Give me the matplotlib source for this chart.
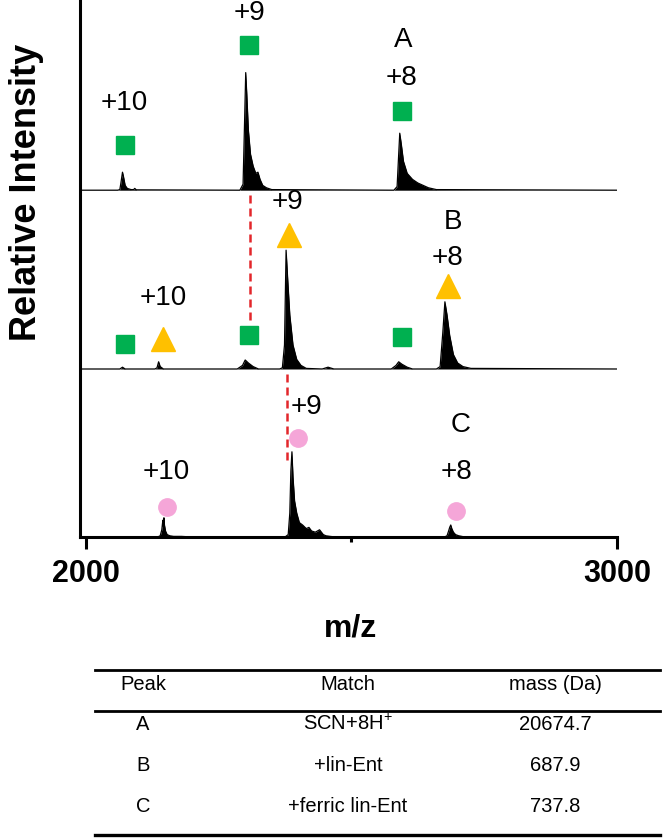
import matplotlib
matplotlib.use('Agg')
import matplotlib.pyplot as plt
from matplotlib.lines import Line2D

plt.rcParams['font.family'] = ['Liberation Sans', 'DejaVu Sans']
plt.rcParams['mathtext.default'] = 'regular'

# spectrum outlines (m/z, relative intensity)
A_mz = [1990, 2060, 2064, 2066, 2068, 2069, 2071, 2074, 2078, 2085, 2090, 2092, 2095,
        2290, 2296, 2299, 2301, 2303, 2306, 2310, 2315, 2320, 2324, 2328, 2333, 2340, 2350,
        2580, 2586, 2589, 2591, 2594, 2598, 2605, 2615, 2625, 2635, 2645, 2660, 3000]
A_int = [0, 0, 0.5, 6, 12, 15, 11, 4, 1.5, 0.5, 0.5, 1.5, 0.3,
         0, 5, 60, 98, 80, 50, 30, 20, 14, 15, 9, 4, 2, 0.5,
         0, 3, 30, 47.5, 38, 24, 14, 9, 6, 4, 2, 0.5, 0]

B_mz = [1990, 2064, 2069, 2074, 2130, 2134, 2137, 2140, 2146, 2285, 2295, 2300, 2306,
        2315, 2325, 2365, 2370, 2374, 2377, 2380, 2384, 2390, 2397, 2405, 2415, 2445,
        2456, 2467, 2575, 2584, 2589, 2595, 2605, 2615, 2660, 2667, 2672, 2676, 2680,
        2685, 2692, 2700, 2710, 2725, 3000]
B_int = [0, 0, 1.5, 0, 0, 1, 6, 2, 0, 0, 3, 7.5, 5,
         2, 0, 0, 1, 20, 99, 75, 45, 20, 8, 3, 0.5, 0,
         1.5, 0, 0, 3, 6, 4, 1.5, 0, 0, 2, 30, 56, 45,
         28, 12, 5, 2, 0.5, 0]

C_mz = [1990, 2135, 2140, 2143, 2145, 2146, 2147, 2148, 2150, 2153, 2158, 2165, 2180,
        2200, 2375, 2381, 2384, 2386, 2388, 2390, 2393, 2397, 2402, 2408, 2415, 2420,
        2425, 2432, 2440, 2447, 2452, 2460, 2470, 2675, 2680, 2683, 2685, 2687, 2689,
        2692, 2696, 2702, 2710, 3000]
C_int = [0, 0, 1, 6, 14, 9, 16, 10, 5, 2, 1, 0.5, 0.5,
         0, 0, 2, 20, 55, 71, 50, 30, 20, 12, 10, 7, 8,
         5, 4, 6, 2, 1, 0.5, 0, 0, 1, 5, 8, 10, 7,
         4, 2, 1, 0.3, 0]

offsets = {'A': 289, 'B': 140, 'C': 0}

# peak markers
sq_mz = [2073, 2307, 2595, 2073, 2307, 2595]
sq_y = [327, 410, 355, 161, 168, 167]
tri_mz = [2145, 2382, 2682]
tri_y = [165, 252, 209]
circ_mz = [2152, 2399, 2697]
circ_y = [25, 82.5, 21.7]

# charge state / panel labels
lab_text = ['+10', '+9', '+8', 'A', '+10', '+9', '+8', 'B', '+10', '+9', '+8', 'C']
lab_mz = [2073, 2309, 2595, 2597, 2145, 2379, 2680, 2691, 2152, 2416, 2697, 2706]
lab_y = [362, 437, 382.5, 414, 199, 279, 232.5, 262.5, 54, 108, 54, 93]

# dashed guide lines
dash_mz = [2309, 2379]
dash_lo = [181, 64]
dash_hi = [287, 140]

# table
tab_cols = ['Peak', 'Match', 'mass (Da)']
tab_peak = ['A', 'B', 'C']
tab_match = ['SCN+8H$^{+}$', '+lin-Ent', '+ferric lin-Ent']
tab_mass = ['20674.7', '687.9', '737.8']

W, H = 666, 838
fig = plt.figure(figsize=(W / 100, H / 100), dpi=100)
ax = fig.add_axes([80 / W, 1 - 537 / H, 537 / W, 537 / H])

for mz, inten, key in [(A_mz, A_int, 'A'), (B_mz, B_int, 'B'), (C_mz, C_int, 'C')]:
    off = offsets[key]
    top = [off + v for v in inten]
    ax.fill_between(mz, off, top, color='black', lw=0)
    ax.plot(mz, top, color='black', lw=0.9)

ax.plot(sq_mz, sq_y, ls='none', marker='s', ms=13, color='#00B050', mec='#00B050')
ax.plot(tri_mz, tri_y, ls='none', marker='^', ms=17, color='#FFC000', mec='#FFC000')
ax.plot(circ_mz, circ_y, ls='none', marker='o', ms=12.5, color='#F5A6D8', mec='#F5A6D8')

for t, x, y in zip(lab_text, lab_mz, lab_y):
    ax.text(x, y, t, fontsize=20, ha='center', va='center')

for x, lo, hi in zip(dash_mz, dash_lo, dash_hi):
    ax.plot([x, x], [lo, hi], color='#E3262B', lw=1.8, ls=(0, (3.2, 2)))

ax.set_xlim(1989, 3000)
ax.set_ylim(0, 447.5)
ax.spines['top'].set_visible(False)
ax.spines['right'].set_visible(False)
ax.spines['left'].set_linewidth(2.2)
ax.spines['bottom'].set_linewidth(2.2)
ax.set_yticks([])
ax.set_xticks([2000, 3000])
ax.set_xticks([2500], minor=True)
ax.tick_params(axis='x', which='major', length=8.5, width=2.2, pad=7, labelsize=22)
ax.tick_params(axis='x', which='minor', length=3.5, width=2.2)
for lbl in ax.get_xticklabels():
    lbl.set_fontweight('bold')

fig.text(350 / W, 1 - 628 / H, 'm/z', fontsize=23, fontweight='bold', ha='center', va='center')
fig.text(27 / W, 1 - 192 / H, 'Relative Intensity', fontsize=26, fontweight='bold',
         ha='center', va='center', rotation=90)

# table rules and text
for y, lw in [(670, 2.0), (711, 2.0), (835, 2.4)]:
    fig.add_artist(Line2D([95 / W, 660 / W], [1 - y / H, 1 - y / H], color='black', lw=lw))

col_x = [143, 348, 555]
for x, t in zip(col_x, tab_cols):
    fig.text(x / W, 1 - 684 / H, t, fontsize=14.5, ha='center', va='center')
for i, y in enumerate([724, 765, 806]):
    fig.text(col_x[0] / W, 1 - y / H, tab_peak[i], fontsize=14.5, ha='center', va='center')
    fig.text(col_x[1] / W, 1 - y / H, tab_match[i], fontsize=14.5, ha='center', va='center')
    fig.text(col_x[2] / W, 1 - y / H, tab_mass[i], fontsize=14.5, ha='center', va='center')

fig.savefig('out.png', dpi=100)
